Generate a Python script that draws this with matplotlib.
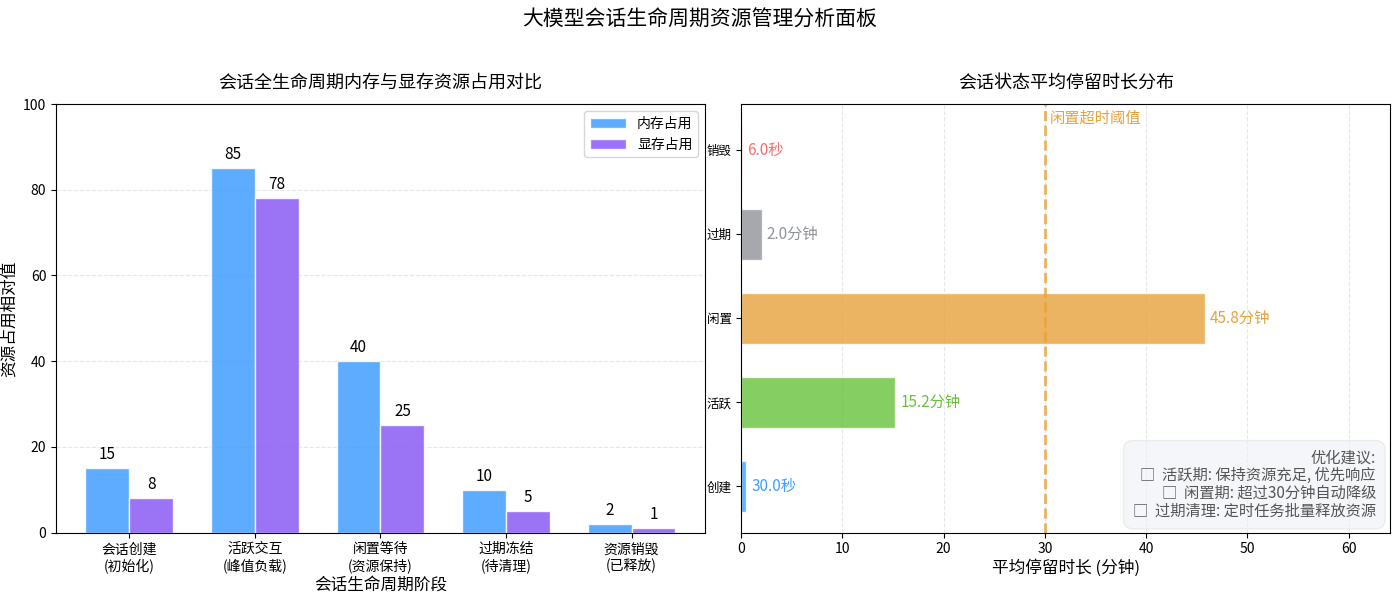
import matplotlib
matplotlib.use("Agg")
import matplotlib.pyplot as plt
import numpy as np

plt.rcParams["font.family"] = ["Noto Sans CJK SC", "DejaVu Sans"]
plt.rcParams["axes.unicode_minus"] = False

# left panel data
stages = ["会话创建\n(初始化)", "活跃交互\n(峰值负载)", "闲置等待\n(资源保持)",
          "过期冻结\n(待清理)", "资源销毁\n(已释放)"]
memory_usage = [15, 85, 40, 10, 2]
gpu_usage = [8, 78, 25, 5, 1]

# right panel data (minutes)
states = ["创建", "活跃", "闲置", "过期", "销毁"]
durations = [0.5, 15.2, 45.8, 2.0, 0.1]
duration_labels = ["30.0秒", "15.2分钟", "45.8分钟", "2.0分钟", "6.0秒"]
state_colors = ["#409EFF", "#67C23A", "#E6A23C", "#909399", "#F56C6C"]
idle_threshold = 30

tips = ("优化建议:\n"
        "□  活跃期: 保持资源充足, 优先响应\n"
        "□  闲置期: 超过30分钟自动降级\n"
        "□  过期清理: 定时任务批量释放资源")

fig, (ax1, ax2) = plt.subplots(1, 2, figsize=(14, 5.95), dpi=100)
fig.suptitle("大模型会话生命周期资源管理分析面板", fontsize=15, y=0.985)

x = np.arange(len(stages))
w = 0.35
b1 = ax1.bar(x - w / 2, memory_usage, w, label="内存占用", color="#409EFF",
             alpha=0.85, edgecolor="white", linewidth=1)
b2 = ax1.bar(x + w / 2, gpu_usage, w, label="显存占用", color="#8A5CF5",
             alpha=0.85, edgecolor="white", linewidth=1)
for bars in (b1, b2):
    for rect in bars:
        h = rect.get_height()
        ax1.text(rect.get_x() + rect.get_width() / 2, h + 1.2, f"{h:.0f}",
                 ha="center", va="bottom", fontsize=11)
ax1.set_xticks(x)
ax1.set_xticklabels(stages, fontsize=10)
ax1.set_ylim(0, 100)
ax1.set_ylabel("资源占用相对值", fontsize=12, labelpad=4)
ax1.set_xlabel("会话生命周期阶段", fontsize=12, labelpad=2)
ax1.set_title("会话全生命周期内存与显存资源占用对比", fontsize=13, pad=12)
ax1.grid(axis="y", linestyle="--", alpha=0.3)
ax1.set_axisbelow(True)
ax1.legend(loc="upper right", fontsize=10, handlelength=2.6)

y = np.arange(len(states))
ax2.barh(y, durations, height=0.6, color=state_colors, alpha=0.8,
         edgecolor="white", linewidth=1)
for yi, v, lab, c in zip(y, durations, duration_labels, state_colors):
    ax2.text(v + 0.5, yi, lab, va="center", ha="left", fontsize=11, color=c)
ax2.axvline(idle_threshold, color="#E6A23C", linestyle="--", linewidth=2, alpha=0.8)
ax2.text(idle_threshold + 0.5, 4.38, "闲置超时阈值", color="#E6A23C", fontsize=11,
         va="center", ha="left")
ax2.set_yticks(y)
ax2.set_yticklabels(states, fontsize=9)
ax2.set_xlim(0, max(durations) * 1.4)
ax2.set_ylim(-0.55, 4.55)
ax2.set_xlabel("平均停留时长 (分钟)", fontsize=12, labelpad=2)
ax2.set_title("会话状态平均停留时长分布", fontsize=13, pad=12)
ax2.grid(axis="x", linestyle="--", alpha=0.3)
ax2.set_axisbelow(True)
ax2.text(0.978, 0.03, tips, transform=ax2.transAxes, ha="right", va="bottom",
         fontsize=11, color="#555555", linespacing=1.05,
         bbox=dict(boxstyle="round,pad=0.6", facecolor="#EEF1F5", edgecolor="#E2E2E2",
                   alpha=0.6))

fig.subplots_adjust(left=0.04, right=0.993, top=0.825, bottom=0.105, wspace=0.056)
fig.savefig("out.png", dpi=100)
